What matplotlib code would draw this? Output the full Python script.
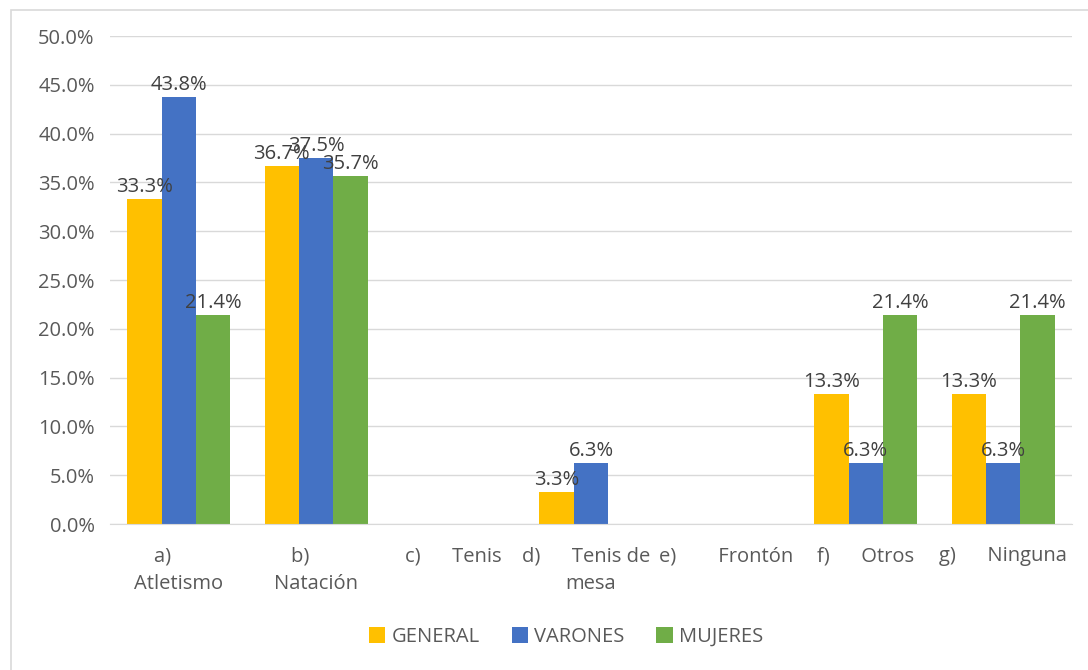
import matplotlib
matplotlib.use("Agg")
import matplotlib.pyplot as plt
from matplotlib.patches import Rectangle
import numpy as np

categories = ["a)      \nAtletismo", "b)      \nNatación", "c)      Tenis",
              "d)      Tenis de  \nmesa", "e)        Frontón ", "f)      Otros", "g)      Ninguna"]
series_names = ["GENERAL", "VARONES", "MUJERES"]
general = [33.3, 36.7, 0.0, 3.3, 0.0, 13.3, 13.3]
varones = [43.8, 37.5, 0.0, 6.3, 0.0, 6.3, 6.3]
mujeres = [21.4, 35.7, 0.0, 0.0, 0.0, 21.4, 21.4]
colors = ["#FFC000", "#4472C4", "#70AD47"]

plt.rcParams['font.family'] = ['Open Sans', 'DejaVu Sans']
W, H = 1088, 670
fs = 14.5
fig = plt.figure(figsize=(W / 100, H / 100), dpi=100)
ax = fig.add_axes([110 / W, 1 - 524 / H, (1072 - 110) / W, (524 - 36) / H])

x = np.arange(len(categories))
bw = 0.25
txt_color = "#595959"
for i, (vals, name, c) in enumerate(zip([general, varones, mujeres], series_names, colors)):
    pos = x + (i - 1) * bw
    bars = ax.bar(pos, vals, width=bw, color=c, label=name, zorder=3)
    for b, v in zip(bars, vals):
        if v > 0:
            ax.text(b.get_x() + b.get_width() / 2, v + 0.2, f"{v:.1f}%",
                    ha="center", va="bottom", fontsize=fs, color="#404040", zorder=4)

ax.set_xlim(-0.5, len(categories) - 0.5)
ax.set_ylim(0, 50)
yt = np.arange(0, 50.1, 5)
ax.set_yticks(yt)
ax.set_yticklabels([f"{v:.1f}%" for v in yt], fontsize=fs, color=txt_color)
ax.set_xticks(x)
ax.set_xticklabels(categories, fontsize=fs, color=txt_color, linespacing=1.5)
ax.tick_params(axis="both", length=0)
ax.tick_params(axis="x", pad=16)
ax.tick_params(axis="y", pad=11)
ax.grid(axis="y", color="#D9D9D9", linewidth=1, zorder=0)
for s in ["top", "right", "left"]:
    ax.spines[s].set_visible(False)
ax.spines["bottom"].set_color("#D9D9D9")
ax.spines["bottom"].set_zorder(5)

leg = fig.legend(loc="center", bbox_to_anchor=(566 / W, 1 - 637 / H), ncol=3, frameon=False,
                 fontsize=fs, handlelength=0.8, handleheight=0.8, handletextpad=0.3,
                 columnspacing=1.6)
for t in leg.get_texts():
    t.set_color(txt_color)

fig.patches.append(Rectangle((11 / W, -0.1), 1.2, 1 - 10 / H + 0.1, transform=fig.transFigure,
                             fill=False, edgecolor="#D9D9D9", linewidth=1.2))

fig.savefig("out.png", dpi=100)
